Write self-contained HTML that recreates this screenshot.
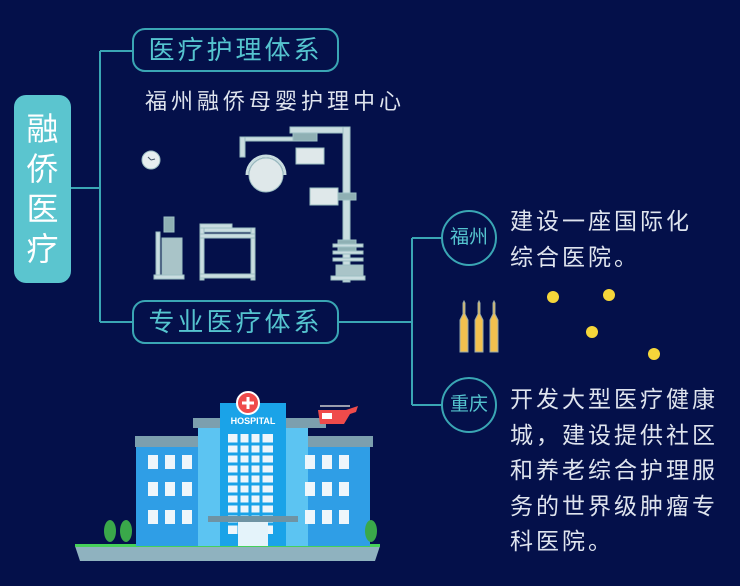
<!DOCTYPE html>
<html><head><meta charset="utf-8"><style>
body{margin:0;width:740px;height:586px;background:#04104a;overflow:hidden;position:relative;font-family:"Liberation Sans","Noto Sans CJK SC",sans-serif}
.abs{position:absolute}
.box{position:absolute;border:2px solid #3aa6b4;border-radius:13px;color:#55c4cf;font-size:26px;letter-spacing:3px;text-align:center;box-sizing:border-box;line-height:40px}
.circ{position:absolute;width:56px;height:56px;border:2px solid #3aa6b4;border-radius:50%;box-sizing:border-box;color:#55c4cf;font-size:19px;line-height:52px;text-align:center}
.txt{position:absolute;color:#dfe4ee;font-size:23px;line-height:35.5px;letter-spacing:3px}
</style></head><body>
<div class="abs" style="left:14px;top:95px;width:57px;height:188px;background:#5bc5cf;border-radius:12px;color:#fff;font-size:32px;line-height:40px;text-align:center;padding-top:14px;box-sizing:border-box">融<br>侨<br>医<br>疗</div>
<svg class="abs" style="left:0;top:0" width="740" height="586">
<g stroke="#3aa6b4" stroke-width="2" fill="none">
<path d="M71 188H100M100 51V322M100 51H132M100 322H132M339 322H412M412 238V405M412 238H442M412 405H442"/>
</g>
<g fill="#c9dde0" stroke="#9dbfc3">
<circle cx="151" cy="160" r="9" fill="#e6eef0"/>
<path d="M151 160l-3-3M151 160l4-1" stroke="#456" stroke-width="1"/>
<rect x="240" y="137" width="55" height="4"/>
<rect x="240" y="137" width="5" height="20"/>
<circle cx="266" cy="175" r="17" fill="#dfe8ea"/>
<path d="M247 175a19 19 0 0 1 38 0" fill="none" stroke="#c9dde0" stroke-width="3"/>
<rect x="290" y="127" width="60" height="6"/>
<rect x="293" y="133" width="24" height="8" fill="#8fb0b4"/>
<rect x="296" y="148" width="28" height="16" fill="#dfe8ea"/>
<rect x="343" y="127" width="7" height="155"/>
<rect x="310" y="188" width="28" height="17" fill="#dfe8ea"/>
<rect x="338" y="193" width="18" height="7" fill="#8fb0b4"/>
<rect x="338" y="240" width="18" height="12" fill="#8fb0b4"/>
<rect x="333" y="244" width="30" height="3"/><rect x="333" y="251" width="30" height="3"/><rect x="333" y="258" width="30" height="3"/>
<rect x="336" y="265" width="27" height="14" fill="#a9c4c8"/>
<rect x="331" y="276" width="34" height="4"/>
<rect x="200" y="228" width="55" height="4"/>
<rect x="200" y="228" width="4" height="52"/><rect x="251" y="228" width="4" height="52"/>
<rect x="200" y="234" width="55" height="4"/>
<rect x="200" y="274" width="55" height="4"/>
<rect x="200" y="224" width="32" height="4"/>
<rect x="164" y="217" width="10" height="15" fill="#8fb0b4"/>
<rect x="162" y="238" width="20" height="38" fill="#a9c4c8"/>
<rect x="156" y="232" width="4" height="46"/>
<rect x="154" y="275" width="30" height="4"/>
</g>
<g fill="#f3c14f" stroke="#9aa" stroke-width="1">
<path d="M460 352V320l3-6V303l1-2 1 2V314l3 6V352Z"/>
<path d="M475 352V320l3-6V303l1-2 1 2V314l3 6V352Z"/>
<path d="M490 352V320l3-6V303l1-2 1 2V314l3 6V352Z"/>
</g>
<g fill="#f5d63a"><circle cx="553" cy="297" r="6"/><circle cx="609" cy="295" r="6"/><circle cx="592" cy="332" r="6"/><circle cx="654" cy="354" r="6"/></g>
<polygon points="75,546 380,546 375,561 80,561" fill="#8fb2bf"/>
<rect x="75" y="544" width="305" height="3" fill="#46d05a"/>
<rect x="136" y="446" width="70" height="100" fill="#2f9ee6"/>
<rect x="300" y="446" width="70" height="100" fill="#2f9ee6"/>
<g fill="#3aa84a"><ellipse cx="110" cy="531" rx="6" ry="11"/><ellipse cx="126" cy="531" rx="6" ry="11"/><ellipse cx="371" cy="531" rx="6" ry="11"/></g>
<rect x="135" y="436" width="72" height="11" fill="#7c9fae"/>
<rect x="299" y="436" width="74" height="11" fill="#7c9fae"/>
<rect x="198" y="421" width="110" height="125" fill="#5cc4f2"/>
<rect x="193" y="418" width="50" height="10" fill="#7c9fae"/><rect x="276" y="418" width="50" height="10" fill="#7c9fae"/>
<rect x="220" y="403" width="66" height="143" fill="#1aa3e8"/>
<circle cx="248" cy="403" r="11" fill="#ef4b4b" stroke="#fff" stroke-width="2"/>
<path d="M248 397v12M242 403h12" stroke="#fff" stroke-width="3"/>
<text x="253" y="424" fill="#fff" font-size="9" font-weight="bold" text-anchor="middle" font-family="Liberation Sans">HOSPITAL</text>
<rect x="228" y="434" width="45" height="100" fill="#eef6fb"/>
<g stroke="#1aa3e8" stroke-width="3"><path d="M228 444h45M228 454h45M228 464h45M228 474h45M228 484h45M228 494h45M228 504h45M228 514h45M228 524h45M239 434v100M250 434v100M261 434v100"/></g>
<rect x="208" y="516" width="90" height="6" fill="#6f93a3"/>
<rect x="238" y="522" width="30" height="24" fill="#e4f3fa"/>
<g fill="#eef6fb">
<rect x="148" y="455" width="10" height="14"/><rect x="165" y="455" width="10" height="14"/><rect x="182" y="455" width="10" height="14"/>
<rect x="148" y="482" width="10" height="14"/><rect x="165" y="482" width="10" height="14"/><rect x="182" y="482" width="10" height="14"/>
<rect x="148" y="510" width="10" height="14"/><rect x="165" y="510" width="10" height="14"/><rect x="182" y="510" width="10" height="14"/>
<rect x="305" y="455" width="10" height="14"/><rect x="322" y="455" width="10" height="14"/><rect x="339" y="455" width="10" height="14"/>
<rect x="305" y="482" width="10" height="14"/><rect x="322" y="482" width="10" height="14"/><rect x="339" y="482" width="10" height="14"/>
<rect x="305" y="510" width="10" height="14"/><rect x="322" y="510" width="10" height="14"/><rect x="339" y="510" width="10" height="14"/>
</g>
<path d="M318 410h28l12-4-2 6-6 2-6 10h-24z" fill="#ef4b4b"/>
<path d="M320 406h30" stroke="#ccc" stroke-width="1.5"/>
<rect x="322" y="413" width="10" height="6" fill="#fff"/>
</svg>
<div class="box" style="left:132px;top:28px;width:207px;height:44px">医疗护理体系</div>
<div class="abs" style="left:145px;top:88px;color:#dfe4ee;font-size:22px;letter-spacing:4px;line-height:28px;white-space:nowrap">福州融侨母婴护理中心</div>
<div class="box" style="left:132px;top:300px;width:207px;height:44px">专业医疗体系</div>
<div class="circ" style="left:441px;top:210px">福州</div>
<div class="circ" style="left:441px;top:377px">重庆</div>
<div class="txt" style="left:510px;top:204px;white-space:nowrap">建设一座国际化<br>综合医院。</div>
<div class="txt" style="left:510px;top:382px;white-space:nowrap">开发大型医疗健康<br>城，建设提供社区<br>和养老综合护理服<br>务的世界级肿瘤专<br>科医院。</div>
</body></html>
